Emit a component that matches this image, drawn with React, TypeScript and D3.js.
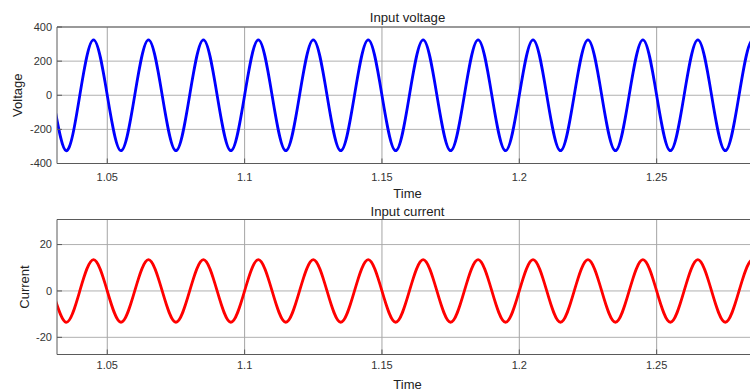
import * as d3 from 'd3';

const sampleTimes = [
  1.025, 1.03, 1.035, 1.04, 1.045, 1.05, 1.055, 1.06, 1.065, 1.07,
  1.075, 1.08, 1.085, 1.09, 1.095, 1.1, 1.105, 1.11, 1.115, 1.12,
  1.125, 1.13, 1.135, 1.14, 1.145, 1.15, 1.155, 1.16, 1.165, 1.17,
  1.175, 1.18, 1.185, 1.19, 1.195, 1.2, 1.205, 1.21, 1.215, 1.22,
  1.225, 1.23, 1.235, 1.24, 1.245, 1.25, 1.255, 1.26, 1.265, 1.27,
  1.275, 1.28, 1.285, 1.29
];

const voltageValues = [
  325, 0, -325, 0, 325, 0, -325, 0, 325, 0,
  -325, 0, 325, 0, -325, 0, 325, 0, -325, 0,
  325, 0, -325, 0, 325, 0, -325, 0, 325, 0,
  -325, 0, 325, 0, -325, 0, 325, 0, -325, 0,
  325, 0, -325, 0, 325, 0, -325, 0, 325, 0,
  -325, 0, 325, 0
];

const currentValues = [
  13.5, 0, -13.5, 0, 13.5, 0, -13.5, 0, 13.5, 0,
  -13.5, 0, 13.5, 0, -13.5, 0, 13.5, 0, -13.5, 0,
  13.5, 0, -13.5, 0, 13.5, 0, -13.5, 0, 13.5, 0,
  -13.5, 0, 13.5, 0, -13.5, 0, 13.5, 0, -13.5, 0,
  13.5, 0, -13.5, 0, 13.5, 0, -13.5, 0, 13.5, 0,
  -13.5, 0, 13.5, 0
];

const timeTicks = [1.05, 1.1, 1.15, 1.2, 1.25];
const timeTickLabels = ['1.05', '1.1', '1.15', '1.2', '1.25'];
const voltageTicks = [-400, -200, 0, 200, 400];
const currentTicks = [-20, 0, 20];

const timeDomain: [number, number] = [1.0317, 1.2869];

const WIDTH = 750;
const HEIGHT = 392;
const LEFT = 57;
const RIGHT = 758;
const FONT = '"Liberation Sans", Arial, sans-serif';

interface PanelProps {
  id: string;
  top: number;
  bottom: number;
  yDomain: [number, number];
  yTicks: number[];
  values: number[];
  color: string;
  title: string;
  yLabel: string;
  titleY: number;
  tickLabelY: number;
  timeLabelY: number;
  yLabelX: number;
}

function Panel({
  id,
  top,
  bottom,
  yDomain,
  yTicks,
  values,
  color,
  title,
  yLabel,
  titleY,
  tickLabelY,
  timeLabelY,
  yLabelX
}: PanelProps) {
  const xScale = d3.scaleLinear().domain(timeDomain).range([LEFT, RIGHT]);
  const yScale = d3.scaleLinear().domain(yDomain).range([bottom, top]);

  // smooth curve through the sampled peaks / zero crossings
  const line = d3
    .line<number>()
    .x((_, i) => xScale(sampleTimes[i]))
    .y((d) => yScale(d))
    .curve(d3.curveNatural);

  const centerX = (LEFT + RIGHT) / 2;

  return (
    <g>
      <defs>
        <clipPath id={`clip-${id}`}>
          <rect x={LEFT} y={top} width={RIGHT - LEFT} height={bottom - top} />
        </clipPath>
      </defs>
      <rect x={LEFT} y={top} width={RIGHT - LEFT} height={bottom - top} fill="#fff" />

      {timeTicks.map((t) => (
        <line
          key={`gx-${t}`}
          x1={xScale(t)}
          x2={xScale(t)}
          y1={top}
          y2={bottom}
          stroke="#9a9a9a"
          strokeWidth={0.9}
        />
      ))}
      {yTicks.map((v) => (
        <line
          key={`gy-${v}`}
          x1={LEFT}
          x2={RIGHT}
          y1={yScale(v)}
          y2={yScale(v)}
          stroke="#a8a8a8"
          strokeWidth={0.9}
        />
      ))}

      <path
        d={line(values) ?? ''}
        fill="none"
        stroke={color}
        strokeWidth={2.8}
        clipPath={`url(#clip-${id})`}
      />

      <line x1={LEFT} x2={RIGHT} y1={top} y2={top} stroke="#5a5a5a" strokeWidth={1} />
      <line x1={LEFT} x2={RIGHT} y1={bottom} y2={bottom} stroke="#5a5a5a" strokeWidth={1} />
      <line x1={LEFT} x2={LEFT} y1={top} y2={bottom} stroke="#5a5a5a" strokeWidth={1} />

      {timeTicks.map((t, i) => (
        <g key={`xt-${t}`}>
          <line x1={xScale(t)} x2={xScale(t)} y1={bottom} y2={bottom - 5} stroke="#5a5a5a" />
          <text
            x={xScale(t)}
            y={tickLabelY}
            textAnchor="middle"
            fontFamily={FONT}
            fontSize={11}
            fill="#333"
          >
            {timeTickLabels[i]}
          </text>
        </g>
      ))}
      {yTicks.map((v) => (
        <g key={`yt-${v}`}>
          <line x1={LEFT} x2={LEFT + 5} y1={yScale(v)} y2={yScale(v)} stroke="#5a5a5a" />
          <text
            x={LEFT - 5}
            y={yScale(v)}
            dy="0.35em"
            textAnchor="end"
            fontFamily={FONT}
            fontSize={11}
            fill="#333"
          >
            {v}
          </text>
        </g>
      ))}

      <text x={centerX} y={titleY} textAnchor="middle" fontFamily={FONT} fontSize={13.2} fill="#222">
        {title}
      </text>
      <text
        x={centerX}
        y={timeLabelY}
        textAnchor="middle"
        fontFamily={FONT}
        fontSize={13}
        fill="#222"
      >
        Time
      </text>
      <text
        transform={`translate(${yLabelX},${(top + bottom) / 2}) rotate(-90)`}
        textAnchor="middle"
        fontFamily={FONT}
        fontSize={13}
        fill="#222"
      >
        {yLabel}
      </text>
    </g>
  );
}

export default function App() {
  return (
    <svg
      width={WIDTH}
      height={HEIGHT}
      style={{ position: 'absolute', left: 0, top: 0, background: '#fff' }}
    >
      <Panel
        id="voltage"
        top={27}
        bottom={163.5}
        yDomain={[-400, 400]}
        yTicks={voltageTicks}
        values={voltageValues}
        color="#0000ff"
        title="Input voltage"
        yLabel="Voltage"
        titleY={21.5}
        tickLabelY={181}
        timeLabelY={197.5}
        yLabelX={21.5}
      />
      <Panel
        id="current"
        top={219.5}
        bottom={354.5}
        yDomain={[-27.4, 30.8]}
        yTicks={currentTicks}
        values={currentValues}
        color="#ff0000"
        title="Input current"
        yLabel="Current"
        titleY={216}
        tickLabelY={369}
        timeLabelY={388.5}
        yLabelX={28.5}
      />
    </svg>
  );
}
